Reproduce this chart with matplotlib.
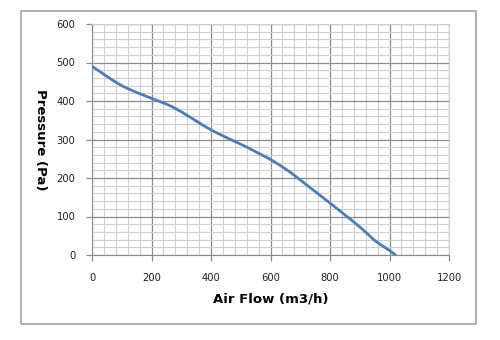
import numpy as np
import matplotlib
matplotlib.use("Agg")
import matplotlib.pyplot as plt
from matplotlib.patches import Rectangle
from matplotlib.ticker import MultipleLocator

# fan curve
air_flow = [0, 100, 200, 250, 300, 400, 500, 530, 600, 655, 700, 800, 900, 950, 1000, 1020]
pressure = [490, 440, 407, 392, 372, 325, 288, 276, 248, 221, 195, 135, 73, 38, 12, 0]

x_ticks = [0, 200, 400, 600, 800, 1000, 1200]
y_ticks = [0, 100, 200, 300, 400, 500, 600]


def smooth(x, y, n=300):
    # simple catmull-rom through the read points
    x = np.asarray(x, float)
    y = np.asarray(y, float)
    px = np.concatenate([[2 * x[0] - x[1]], x, [2 * x[-1] - x[-2]]])
    py = np.concatenate([[2 * y[0] - y[1]], y, [2 * y[-1] - y[-2]]])
    xs, ys = [], []
    for i in range(1, len(px) - 2):
        t = np.linspace(0, 1, 20, endpoint=False)
        for p, out in ((px, xs), (py, ys)):
            p0, p1, p2, p3 = p[i - 1], p[i], p[i + 1], p[i + 2]
            out.extend(0.5 * ((2 * p1) + (-p0 + p2) * t
                              + (2 * p0 - 5 * p1 + 4 * p2 - p3) * t ** 2
                              + (-p0 + 3 * p1 - 3 * p2 + p3) * t ** 3))
    xs.append(x[-1])
    ys.append(y[-1])
    return np.array(xs), np.array(ys)


fig = plt.figure(figsize=(5.0, 3.4), dpi=100)
fig.patch.set_facecolor("white")
fig.patches.append(Rectangle((21 / 500, 1 - 324 / 340), 455 / 500, 313 / 340,
                             transform=fig.transFigure, fill=False,
                             edgecolor="#a6a6a6", linewidth=1.2))

ax = fig.add_axes([92 / 500, 85 / 340, 357 / 500, 231 / 340])

sx, sy = smooth(air_flow, pressure)
ax.plot(sx, sy, color="#4a7ebb", linewidth=2.0, solid_capstyle="round", zorder=3)

ax.set_xlim(0, 1200)
ax.set_ylim(0, 600)
ax.set_xticks(x_ticks)
ax.set_yticks(y_ticks)
ax.xaxis.set_minor_locator(MultipleLocator(40))
ax.yaxis.set_minor_locator(MultipleLocator(20))
ax.grid(which="major", color="#8c8c8c", linewidth=0.9)
ax.grid(which="minor", color="#cfcfcf", linewidth=0.8)
ax.set_axisbelow(True)

ax.tick_params(which="major", length=4, width=0.9, color="#8c8c8c",
               labelsize=7.2, labelcolor="#222222")
ax.tick_params(axis="x", pad=9)
ax.tick_params(axis="y", pad=8)
ax.tick_params(which="minor", length=0)

for side in ["left", "bottom"]:
    ax.spines[side].set_color("#8c8c8c")
for side in ["top", "right"]:
    ax.spines[side].set_color("#cfcfcf")

ax.set_xlabel("Air Flow (m3/h)", fontsize=9.5, fontweight="bold", labelpad=7)
ax.set_ylabel("Pressure (Pa)", fontsize=9.5, fontweight="bold", rotation=270,
              labelpad=16, va="bottom")

fig.savefig("out.png", dpi=100)
